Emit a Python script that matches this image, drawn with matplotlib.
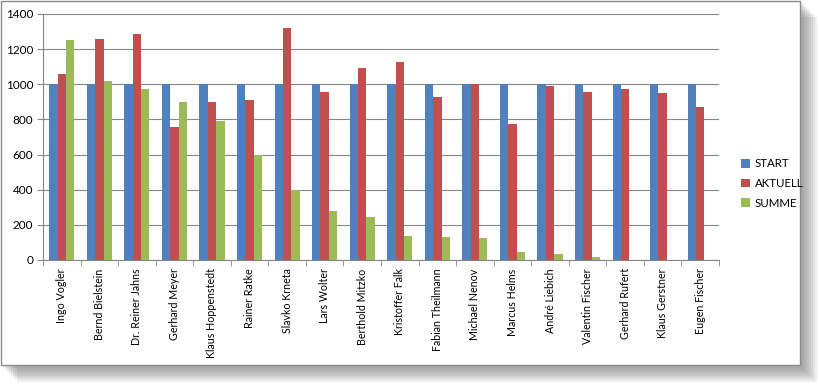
import matplotlib
matplotlib.use('Agg')
import matplotlib.pyplot as plt
import numpy as np
from matplotlib.patches import Rectangle

names = ['Ingo Vogler', 'Bernd Bielstein', 'Dr. Reiner Jahns', 'Gerhard Meyer',
         'Klaus Hoppenstedt', 'Rainer Ratke', 'Slavko Krneta', 'Lars Wolter',
         'Berthold Mitzko', 'Kristoffer Falk', 'Fabian Theilmann', 'Michael Nenov',
         'Marcus Helms', 'André Liebich', 'Valentin Fischer', 'Gerhard Rufert',
         'Klaus Gerstner', 'Eugen Fischer']
start = [1000] * 18
aktuell = [1060, 1260, 1286, 755, 902, 910, 1322, 954, 1095, 1129,
           929, 1000, 772, 993, 954, 974, 948, 872]
summe = [1252, 1016, 976, 902, 791, 600, 401, 278, 242, 134,
         130, 123, 47, 34, 17, 0, 0, 0]

series = [('START', start, '#4F81BD'),
          ('AKTUELL', aktuell, '#C0504D'),
          ('SUMME', summe, '#9BBB59')]

plt.rcParams['font.family'] = ['Lato', 'DejaVu Sans']

fig = plt.figure(figsize=(8.2, 3.85), dpi=100)

# schatten + weisser rahmen
W, H = 820, 385
for i in range(8):
    off = 3 + i * 2
    fig.patches.append(Rectangle((off / W, 1 - (365 + off) / H), 800 / W, 365 / H,
                                 transform=fig.transFigure, facecolor='#707070',
                                 alpha=0.11, edgecolor='none', zorder=0))
fig.patches.append(Rectangle((1 / W, 1 - 365 / H), 799 / W, 364 / H,
                             transform=fig.transFigure, facecolor='white',
                             edgecolor='#8c8c8c', linewidth=1, zorder=1))

ax = fig.add_axes([43 / W, 1 - 260 / H, 676 / W, 246 / H])
ax.set_zorder(2)
ax.patch.set_alpha(0)

x = np.arange(len(names))
w = 1 / 4.5
for k, (lab, vals, col) in enumerate(series):
    ax.bar(x + (k - 1) * w, vals, width=w, color=col, label=lab, zorder=3)

ax.set_xlim(-0.5, len(names) - 0.5)
ax.set_ylim(0, 1400)
ax.set_yticks(range(0, 1401, 200))
ax.yaxis.grid(True, color='#878787', linewidth=0.8, zorder=0)
ax.set_axisbelow(True)

ax.set_xticks(x)
ax.set_xticklabels(names, rotation=90, fontsize=7.7)
ax.set_xticks(np.arange(-0.5, len(names), 1), minor=True)
ax.tick_params(axis='x', which='major', length=0, pad=6)
ax.tick_params(axis='x', which='minor', length=4, color='#878787', direction='out')
ax.tick_params(axis='y', length=4, color='#878787', labelsize=8.5, pad=3)

for s in ['top', 'right']:
    ax.spines[s].set_visible(False)
ax.spines['left'].set_color('#878787')
ax.spines['bottom'].set_color('#878787')

leg = fig.legend(loc='upper left', bbox_to_anchor=(731 / W, 1 - 148 / H),
                 frameon=False, fontsize=8.3, handlelength=0.75, handleheight=0.75,
                 handletextpad=0.4, labelspacing=0.75)

fig.savefig('out.png', dpi=100)
